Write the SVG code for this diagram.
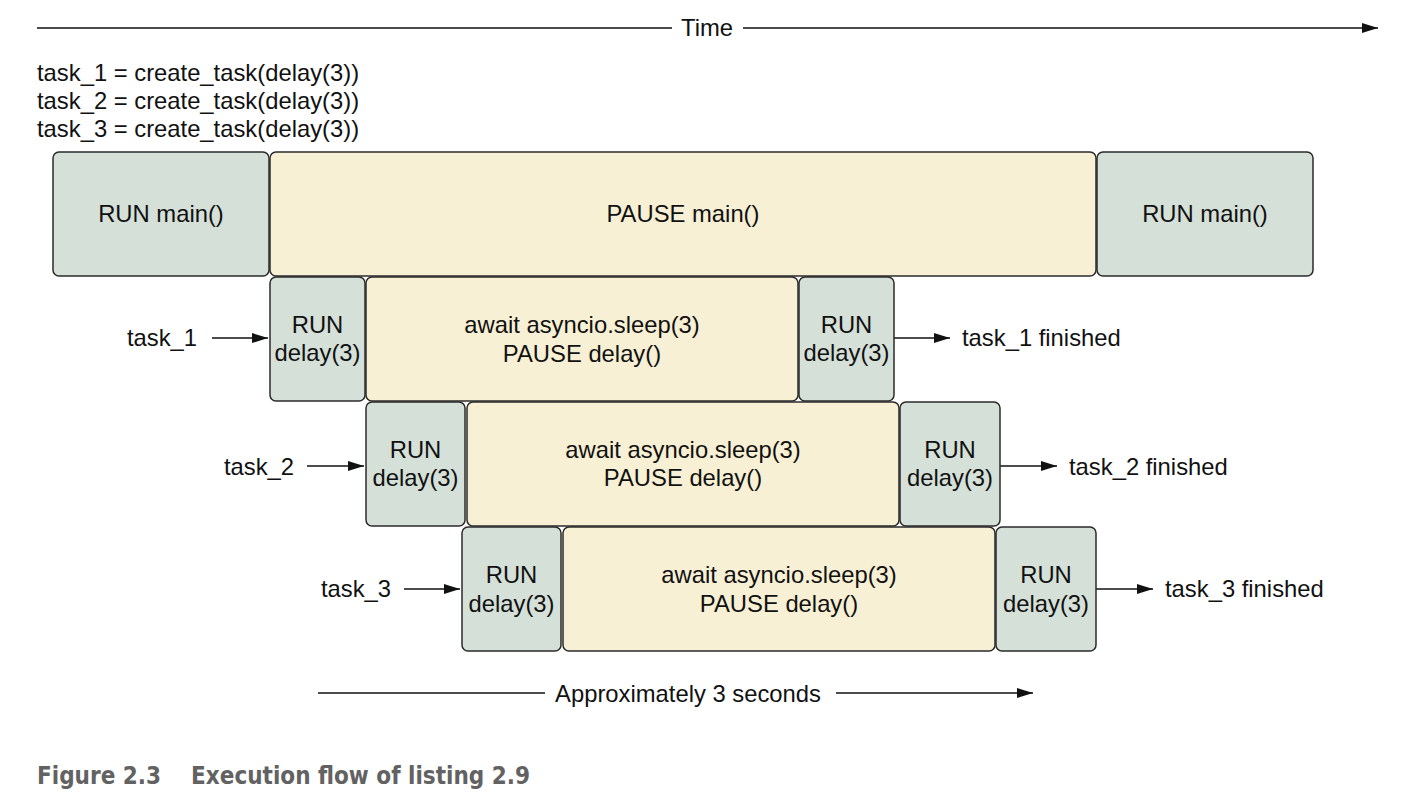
<svg xmlns="http://www.w3.org/2000/svg" width="1416" height="810" viewBox="0 0 1416 810">
<style>
text{font-family:"Liberation Sans",Arial,sans-serif;font-size:23.8px;fill:#111;}
.c{text-anchor:middle;}
.run{fill:#d5e0d8;stroke:#2a2a2a;stroke-width:1.5;}
.pause{fill:#f8f0d4;stroke:#2a2a2a;stroke-width:1.5;}
.ln{stroke:#111;stroke-width:1.5;fill:none;}
.cap{font-family:"DejaVu Sans Condensed","DejaVu Sans",sans-serif;font-weight:bold;font-size:24px;fill:#626262;}
</style>
<defs>
<marker id="ah" markerWidth="16" markerHeight="10" refX="16" refY="5" orient="auto" markerUnits="userSpaceOnUse">
<path d="M0,0 L16,5 L0,10 Z" fill="#111"/>
</marker>
</defs>
<rect width="1416" height="810" fill="#fff"/>
<g id="connectors">
<line class="ln" x1="37" y1="28" x2="672" y2="28"/>
<line class="ln" x1="743" y1="28" x2="1378" y2="28" marker-end="url(#ah)"/>
<line class="ln" x1="212" y1="338" x2="268" y2="338" marker-end="url(#ah)"/>
<line class="ln" x1="894" y1="338" x2="950" y2="338" marker-end="url(#ah)"/>
<line class="ln" x1="307" y1="466" x2="364" y2="466" marker-end="url(#ah)"/>
<line class="ln" x1="1000" y1="466" x2="1057" y2="466" marker-end="url(#ah)"/>
<line class="ln" x1="404" y1="589" x2="460" y2="589" marker-end="url(#ah)"/>
<line class="ln" x1="1096" y1="589" x2="1153" y2="589" marker-end="url(#ah)"/>
<line class="ln" x1="318" y1="693" x2="545" y2="693"/>
<line class="ln" x1="836" y1="693" x2="1033" y2="693" marker-end="url(#ah)"/>
</g>
<text class="c" x="707" y="36">Time</text>
<text x="37" y="81">task_1 = create_task(delay(3))</text>
<text x="37" y="109">task_2 = create_task(delay(3))</text>
<text x="37" y="137">task_3 = create_task(delay(3))</text>
<g id="main-run-1"><rect class="run" x="53" y="152" width="216" height="124" rx="6"/><text class="c" x="161" y="222">RUN main()</text></g>
<g id="main-pause"><rect class="pause" x="270" y="152" width="826" height="124" rx="6"/><text class="c" x="683" y="222">PAUSE main()</text></g>
<g id="main-run-2"><rect class="run" x="1097" y="152" width="216" height="124" rx="6"/><text class="c" x="1205" y="222">RUN main()</text></g>

<g id="t1-label"><text class="c" x="162" y="346">task_1</text></g>
<g id="t1-run-1"><rect class="run" x="270" y="277" width="95" height="124" rx="6"/><text class="c" x="317.5" y="333">RUN</text><text class="c" x="317.5" y="361">delay(3)</text></g>
<g id="t1-pause"><rect class="pause" x="366" y="277" width="432" height="124" rx="6"/><text class="c" x="582" y="333">await asyncio.sleep(3)</text><text class="c" x="582" y="362">PAUSE delay()</text></g>
<g id="t1-run-2"><rect class="run" x="799" y="277" width="95" height="124" rx="6"/><text class="c" x="846.5" y="333">RUN</text><text class="c" x="846.5" y="361">delay(3)</text></g>
<g id="t1-done"><text x="962" y="346">task_1 finished</text></g>

<g id="t2-label"><text class="c" x="259" y="475">task_2</text></g>
<g id="t2-run-1"><rect class="run" x="366" y="402" width="99" height="124" rx="6"/><text class="c" x="415.5" y="458">RUN</text><text class="c" x="415.5" y="486">delay(3)</text></g>
<g id="t2-pause"><rect class="pause" x="467" y="402" width="432" height="124" rx="6"/><text class="c" x="683" y="458">await asyncio.sleep(3)</text><text class="c" x="683" y="486">PAUSE delay()</text></g>
<g id="t2-run-2"><rect class="run" x="900" y="402" width="100" height="124" rx="6"/><text class="c" x="950" y="458">RUN</text><text class="c" x="950" y="486">delay(3)</text></g>
<g id="t2-done"><text x="1069" y="475">task_2 finished</text></g>

<g id="t3-label"><text class="c" x="356" y="597">task_3</text></g>
<g id="t3-run-1"><rect class="run" x="462" y="527" width="99" height="124" rx="6"/><text class="c" x="511.5" y="583">RUN</text><text class="c" x="511.5" y="612">delay(3)</text></g>
<g id="t3-pause"><rect class="pause" x="563" y="527" width="432" height="124" rx="6"/><text class="c" x="779" y="583">await asyncio.sleep(3)</text><text class="c" x="779" y="612">PAUSE delay()</text></g>
<g id="t3-run-2"><rect class="run" x="996" y="527" width="100" height="124" rx="6"/><text class="c" x="1046" y="583">RUN</text><text class="c" x="1046" y="612">delay(3)</text></g>
<g id="t3-done"><text x="1165" y="597">task_3 finished</text></g>

<text class="c" x="688" y="702">Approximately 3 seconds</text>
<text class="cap" x="37" y="784" xml:space="preserve">Figure 2.3    Execution flow of listing 2.9</text>
</svg>
